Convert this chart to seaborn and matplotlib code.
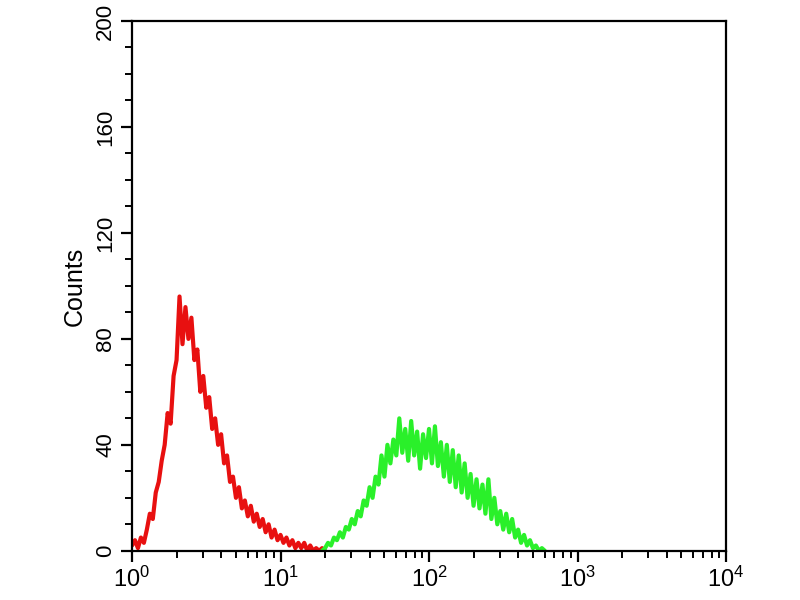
import numpy as np
import pandas as pd
import matplotlib
matplotlib.use('Agg')
import matplotlib.pyplot as plt
import seaborn as sns
from matplotlib.ticker import LogLocator, MultipleLocator, LogFormatterMathtext

# histogram counts, one value every 0.02 decades
red_start = 0.0      # log10 of first channel
red_counts = [2, 4, 1, 5, 3, 8, 14, 12, 22, 26, 34, 40, 52, 48, 66, 72, 96, 78,
              92, 80, 88, 72, 76, 60, 66, 54, 58, 46, 50, 40, 44, 33, 36, 26,
              28, 20, 24, 16, 19, 13, 17, 11, 14, 9, 12, 7, 10, 5, 8, 4, 6, 3,
              5, 2, 4, 1, 3, 1, 3, 0, 2, 0, 1, 0, 1, 0]

green_start = 1.28
green_counts = [0, 1, 3, 2, 5, 4, 7, 5, 9, 8, 12, 10, 15, 13, 19, 17, 24, 20,
                28, 25, 36, 28, 40, 33, 42, 36, 50, 37, 46, 34, 49, 36, 45, 31,
                44, 35, 46, 33, 47, 32, 41, 28, 40, 26, 38, 24, 36, 22, 33, 20,
                29, 17, 27, 16, 25, 14, 27, 12, 20, 10, 15, 8, 14, 7, 12, 5, 8,
                3, 6, 2, 4, 1, 2, 0, 1, 0]
step = 0.02

y_ticks = [0, 40, 80, 120, 160, 200]

def channels(start, counts):
    return 10 ** (start + step * np.arange(len(counts)))

df = pd.concat([
    pd.DataFrame({'fl': channels(red_start, red_counts), 'count': red_counts, 'sample': 'control'}),
    pd.DataFrame({'fl': channels(green_start, green_counts), 'count': green_counts, 'sample': 'stained'}),
])

sns.set_style('ticks')
plt.rcParams['font.family'] = ['Liberation Sans', 'DejaVu Sans']
plt.rcParams['mathtext.default'] = 'regular'
plt.rcParams['text.color'] = 'black'
plt.rcParams['xtick.color'] = 'black'
plt.rcParams['ytick.color'] = 'black'
plt.rcParams['axes.labelcolor'] = 'black'

fig = plt.figure(figsize=(8, 6), dpi=100)
ax = fig.add_axes([0.165, 0.082, 0.7425, 0.883])

sns.lineplot(data=df, x='fl', y='count', hue='sample',
             palette={'control': '#e81010', 'stained': '#2af02a'},
             linewidth=3, estimator=None, legend=False, ax=ax)

ax.set_xscale('log')
ax.set_xlim(1, 1e4)
ax.set_ylim(0, 200)
ax.xaxis.set_major_locator(LogLocator(base=10, numticks=10))
ax.xaxis.set_minor_locator(LogLocator(base=10, subs=np.arange(2, 10), numticks=20))
ax.xaxis.set_major_formatter(LogFormatterMathtext())
ax.set_yticks(y_ticks)
ax.yaxis.set_minor_locator(MultipleLocator(10))

for s in ax.spines.values():
    s.set_visible(True)
    s.set_linewidth(1.6)
    s.set_color('black')

ax.tick_params(axis='both', which='major', direction='out', length=8, width=1.6,
               labelsize=17)
ax.tick_params(axis='both', which='minor', direction='out', length=5, width=1.4)
ax.tick_params(axis='y', labelsize=16)
for lab in ax.get_yticklabels():
    lab.set_rotation(90)
    lab.set_va('center')

ax.set_xlabel('')
ax.set_ylabel('Counts', fontsize=18, labelpad=6)

fig.savefig('out.png', dpi=100, facecolor='white')
